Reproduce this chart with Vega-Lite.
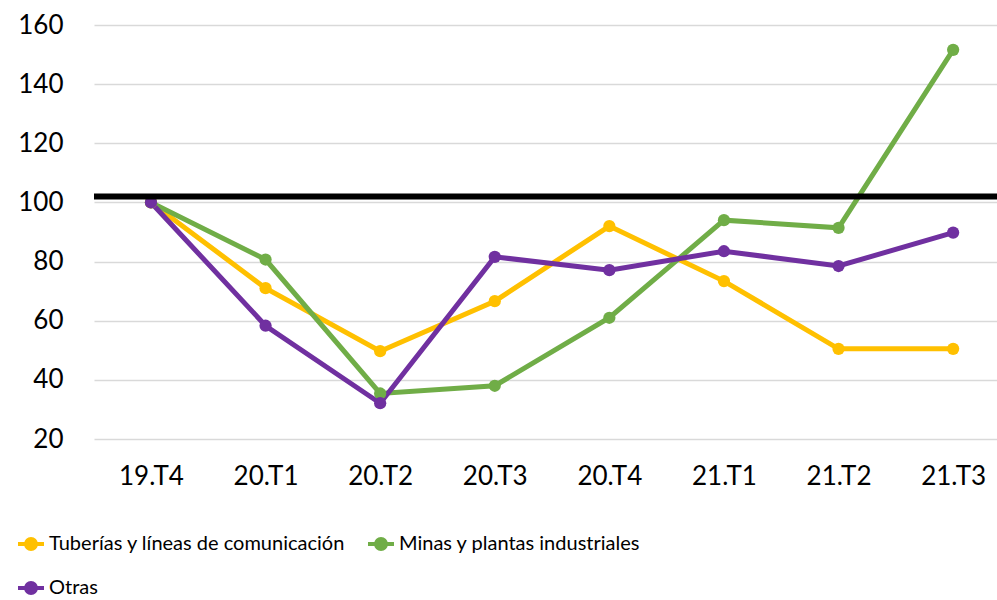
{
  "$schema": "https://vega.github.io/schema/vega-lite/v6.json",
  "autosize": "none",
  "width": 903,
  "height": 414,
  "padding": {"left": 94, "top": 25, "right": 0, "bottom": 161},
  "background": "white",
  "config": {
    "view": {"stroke": null},
    "font": "Lato",
    "axis": {"labelFont": "Lato", "labelColor": "#000000", "labelFontSize": 26, "domain": false, "ticks": false, "title": null}
  },
  "data": {
    "values": [
      {"q": "19.T4", "s": "Tuberías y líneas de comunicación", "v": 100},
      {"q": "20.T1", "s": "Tuberías y líneas de comunicación", "v": 71},
      {"q": "20.T2", "s": "Tuberías y líneas de comunicación", "v": 49.7},
      {"q": "20.T3", "s": "Tuberías y líneas de comunicación", "v": 66.6},
      {"q": "20.T4", "s": "Tuberías y líneas de comunicación", "v": 92},
      {"q": "21.T1", "s": "Tuberías y líneas de comunicación", "v": 73.4},
      {"q": "21.T2", "s": "Tuberías y líneas de comunicación", "v": 50.5},
      {"q": "21.T3", "s": "Tuberías y líneas de comunicación", "v": 50.5},
      {"q": "19.T4", "s": "Minas y plantas industriales", "v": 100},
      {"q": "20.T1", "s": "Minas y plantas industriales", "v": 80.7},
      {"q": "20.T2", "s": "Minas y plantas industriales", "v": 35.4},
      {"q": "20.T3", "s": "Minas y plantas industriales", "v": 38},
      {"q": "20.T4", "s": "Minas y plantas industriales", "v": 61},
      {"q": "21.T1", "s": "Minas y plantas industriales", "v": 94},
      {"q": "21.T2", "s": "Minas y plantas industriales", "v": 91.4},
      {"q": "21.T3", "s": "Minas y plantas industriales", "v": 151.6},
      {"q": "19.T4", "s": "Otras", "v": 100},
      {"q": "20.T1", "s": "Otras", "v": 58.3},
      {"q": "20.T2", "s": "Otras", "v": 32.1},
      {"q": "20.T3", "s": "Otras", "v": 81.6},
      {"q": "20.T4", "s": "Otras", "v": 77.1},
      {"q": "21.T1", "s": "Otras", "v": 83.5},
      {"q": "21.T2", "s": "Otras", "v": 78.5},
      {"q": "21.T3", "s": "Otras", "v": 89.8}
    ]
  },
  "encoding": {
    "x": {
      "field": "q", "type": "ordinal", "sort": null,
      "scale": {"type": "point", "padding": 0.44, "align": 0.565},
      "axis": {"labelAngle": 0, "labelPadding": 24, "grid": false}
    },
    "y": {
      "field": "v", "type": "quantitative",
      "scale": {"domain": [20, 160], "nice": false, "zero": false},
      "axis": {"values": [20, 40, 60, 80, 100, 120, 140, 160], "labelPadding": 31, "grid": true, "gridColor": "#d9d9d9", "gridWidth": 1.5}
    },
    "color": {
      "field": "s", "type": "nominal",
      "scale": {"domain": ["Tuberías y líneas de comunicación", "Minas y plantas industriales", "Otras"], "range": ["#FFC000", "#70AD47", "#7030A0"]},
      "legend": {
        "title": null, "orient": "none", "legendX": -78, "legendY": 504, "columns": 2,
        "direction": "horizontal",
        "columnPadding": 14, "rowPadding": 16,
        "labelFont": "Lato", "labelFontSize": 20, "labelColor": "#000000", "labelOffset": 3, "labelLimit": 600,
        "symbolType": "M-1,0H1M-0.38,0A0.38,0.38 0 1 1 0.38,0A0.38,0.38 0 1 1 -0.38,0Z",
        "symbolSize": 676, "symbolStrokeWidth": 4,
        "encode": {"symbols": {"update": {"fill": {"scale": "color", "field": "value"}, "stroke": {"scale": "color", "field": "value"}, "opacity": {"value": 1}}}}
      }
    }
  },
  "layer": [
    {"mark": {"type": "line", "strokeWidth": 5}},
    {"mark": {"type": "point", "filled": true, "size": 150, "opacity": 1}},
    {"data": {"values": [{"ref": 102}]}, "mark": {"type": "rule", "color": "#000000", "strokeWidth": 6}, "encoding": {"y": {"field": "ref", "type": "quantitative"}, "x": null, "color": null}}
  ]
}
